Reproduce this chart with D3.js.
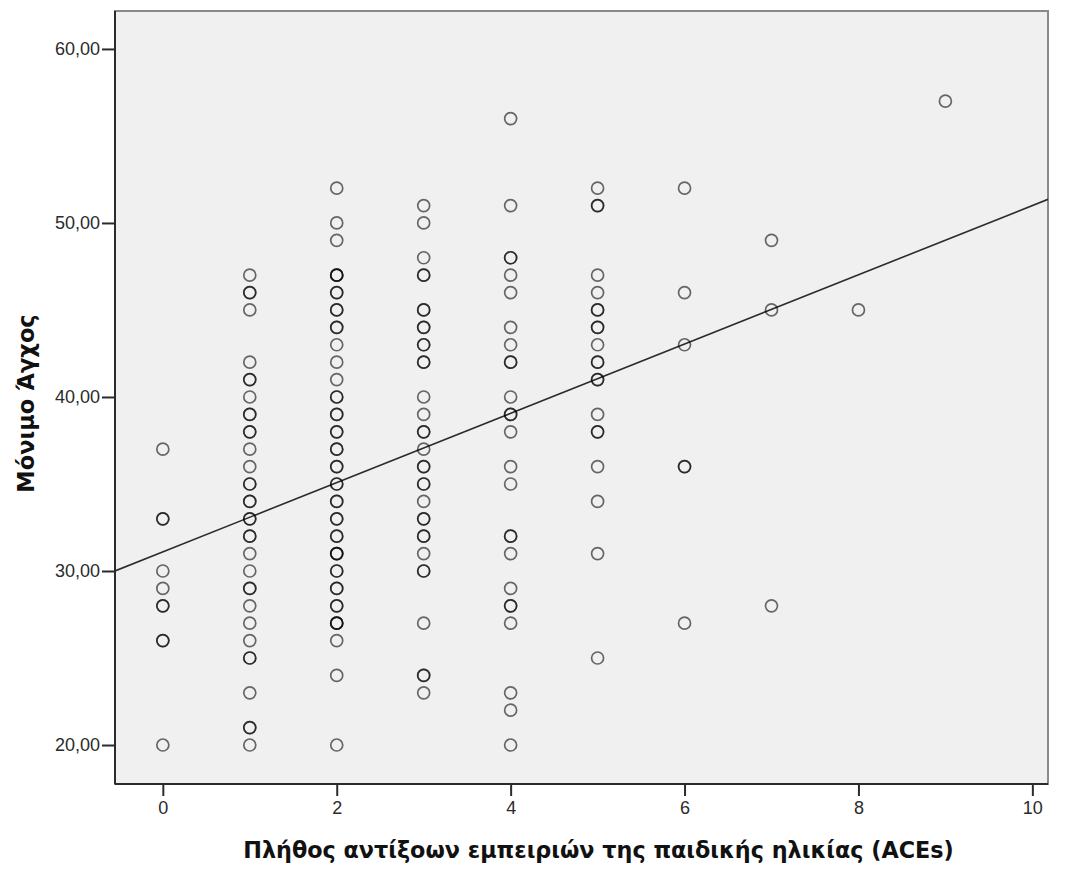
<!DOCTYPE html>
<html>
<head>
<meta charset="utf-8">
<script src="https://cdn.jsdelivr.net/npm/d3@7"></script>
<style>
  body { margin: 0; background: #fff; }
  svg { display: block; }
</style>
</head>
<body>
<svg id="chart" width="1076" height="873"></svg>
<script>
// ACEs count groups and the anxiety scores (repeats = overlapping points)
const aceLevels = [0, 1, 2, 3, 4, 5, 6, 7, 8, 9];
const anxietyAce0 = [37, 33, 33, 30, 29, 28, 28, 26, 26, 20];
const anxietyAce1 = [47, 46, 46, 45, 42, 41, 41, 40, 39, 39, 38, 38, 37, 36, 35, 35, 34, 34, 33, 33,
  32, 32, 31, 30, 29, 29, 28, 27, 26, 25, 25, 23, 21, 21, 20];
const anxietyAce2 = [52, 50, 49, 47, 47, 47, 46, 46, 45, 45, 44, 44, 43, 42, 41, 40, 40, 39, 39, 38, 38,
  37, 37, 36, 36, 35, 35, 34, 34, 33, 33, 32, 32, 31, 31, 31, 30, 30, 29, 29, 28, 28, 27, 27, 27, 26, 24, 20];
const anxietyAce3 = [51, 50, 48, 47, 47, 45, 45, 44, 44, 43, 43, 42, 42, 40, 39, 38, 38, 37, 36, 36,
  35, 35, 34, 33, 33, 32, 32, 31, 30, 30, 27, 24, 24, 23];
const anxietyAce4 = [56, 51, 48, 48, 47, 46, 44, 43, 42, 42, 40, 39, 39, 38, 36, 35, 32, 32, 31, 29,
  28, 28, 27, 23, 22, 20];
const anxietyAce5 = [52, 51, 51, 47, 46, 45, 45, 44, 44, 43, 42, 42, 41, 41, 39, 38, 38, 36, 34, 31, 25];
const anxietyAce6 = [52, 46, 43, 36, 36, 27];
const anxietyAce7 = [49, 45, 28];
const anxietyAce8 = [45];
const anxietyAce9 = [57];

const xTicks = [0, 2, 4, 6, 8, 10];
const yTicks = [20, 30, 40, 50, 60];

// fit line as drawn in the reference
const fitIntercept = 31.1;
const fitSlope = 1.99;

const xLabel = "Πλήθος αντίξοων εμπειριών της παιδικής ηλικίας (ACEs)";
const yLabel = "Μόνιμο Άγχος";

const groups = [anxietyAce0, anxietyAce1, anxietyAce2, anxietyAce3, anxietyAce4,
  anxietyAce5, anxietyAce6, anxietyAce7, anxietyAce8, anxietyAce9];
const points = [];
aceLevels.forEach((a, i) => groups[i].forEach(v => points.push({ ace: a, anx: v })));

const margin = { top: 11, right: 28, bottom: 89, left: 115 };
const width = 1076 - margin.left - margin.right;
const height = 873 - margin.top - margin.bottom;

const svg = d3.select("#chart");
const g = svg.append("g").attr("transform", `translate(${margin.left},${margin.top})`);

const x = d3.scaleLinear().domain([-0.55, 10.18]).range([0, width]);
const y = d3.scaleLinear().domain([17.76, 62.18]).range([height, 0]);

const commaLocale = d3.formatLocale({ decimal: ",", thousands: ".", grouping: [3], currency: ["", ""] });
const fmtY = commaLocale.format(".2f");

g.append("rect")
  .attr("width", width).attr("height", height)
  .attr("fill", "#f0f0f0")
  .attr("stroke", "#8a8a8a").attr("stroke-width", 2);

g.append("clipPath").attr("id", "plot-clip")
  .append("rect").attr("width", width).attr("height", height);

// axes
const xAxis = g.append("g")
  .attr("transform", `translate(0,${height})`)
  .call(d3.axisBottom(x).tickValues(xTicks).tickSize(12).tickPadding(5).tickSizeOuter(0));
const yAxis = g.append("g")
  .call(d3.axisLeft(y).tickValues(yTicks).tickFormat(fmtY).tickSize(13).tickPadding(2).tickSizeOuter(0));

[xAxis, yAxis].forEach(ax => {
  ax.select(".domain").attr("stroke", "#2b2b2b").attr("stroke-width", 2);
  ax.selectAll(".tick line").attr("stroke", "#2b2b2b").attr("stroke-width", 2);
  ax.selectAll(".tick text")
    .attr("fill", "#2b2b2b")
    .style("font-family", "'Liberation Sans', Arial, sans-serif")
    .style("font-size", "18px");
});
yAxis.select(".domain").attr("d", `M0,0V${height}`);
xAxis.select(".domain").attr("d", `M0,0H${width}`);

// regression line
g.append("line")
  .attr("clip-path", "url(#plot-clip)")
  .attr("x1", x(-0.55)).attr("y1", y(fitIntercept + fitSlope * -0.55))
  .attr("x2", x(10.18)).attr("y2", y(fitIntercept + fitSlope * 10.18))
  .attr("stroke", "#2b2b2b").attr("stroke-width", 1.6);

// points
g.append("g").selectAll("circle")
  .data(points)
  .join("circle")
  .attr("cx", d => x(d.ace))
  .attr("cy", d => y(d.anx))
  .attr("r", 6)
  .attr("fill", "none")
  .attr("stroke", "#000")
  .attr("stroke-opacity", 0.58)
  .attr("stroke-width", 1.7);

// axis titles
svg.append("text")
  .attr("x", margin.left + width / 2 + 17)
  .attr("y", 858)
  .attr("text-anchor", "middle")
  .style("font-family", "'DejaVu Sans', Verdana, sans-serif")
  .style("font-weight", "bold")
  .style("font-size", "22.3px")
  .attr("fill", "#111")
  .text(xLabel);

svg.append("text")
  .attr("transform", `translate(34,${margin.top + height / 2 + 6}) rotate(-90)`)
  .attr("text-anchor", "middle")
  .style("font-family", "'DejaVu Sans', Verdana, sans-serif")
  .style("font-weight", "bold")
  .style("font-size", "22.5px")
  .attr("fill", "#111")
  .text(yLabel);
</script>
</body>
</html>
